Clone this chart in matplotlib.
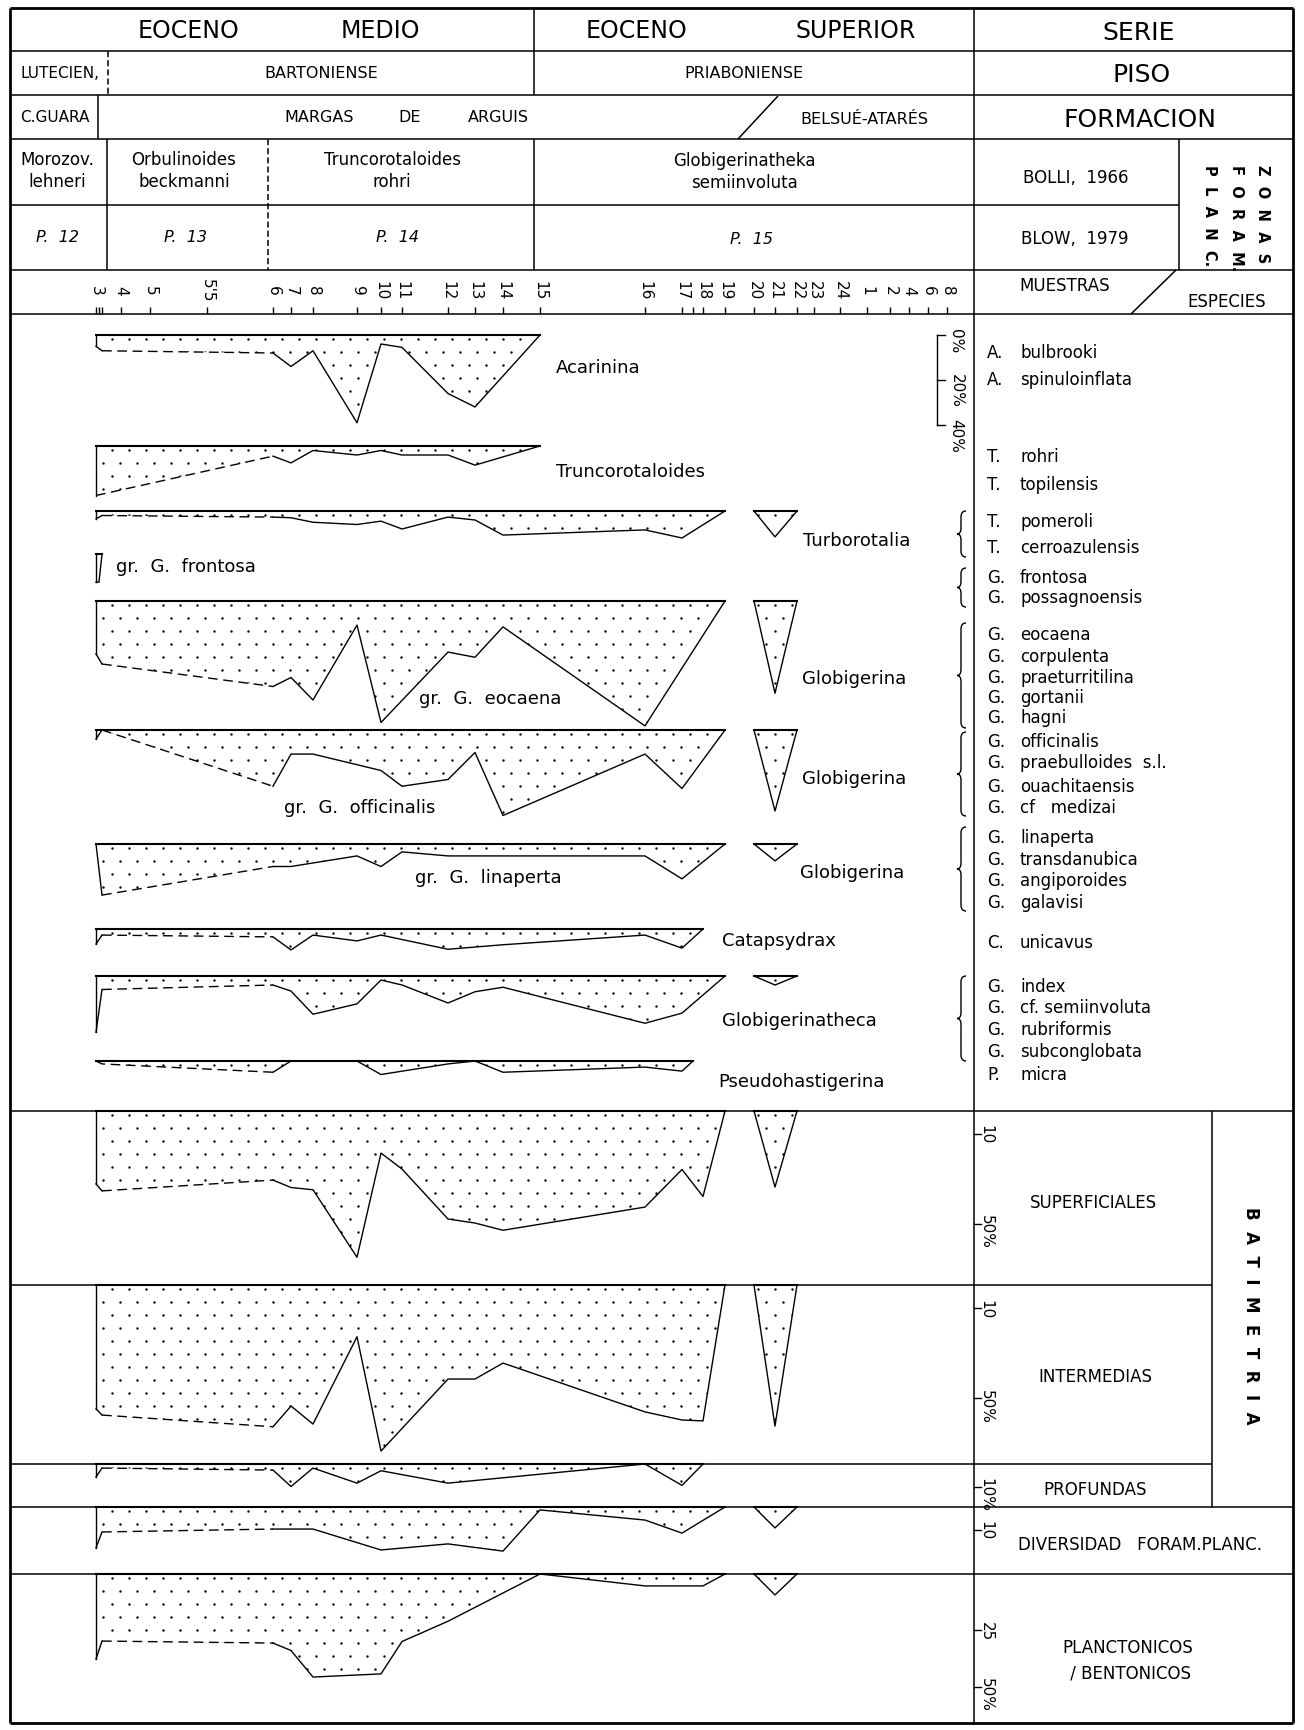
import matplotlib
matplotlib.use("Agg")
import numpy as np
import matplotlib.pyplot as plt
from matplotlib.path import Path
from matplotlib.patches import PathPatch

plt.rcParams['font.family'] = ['DejaVu Sans']

W, H = 1304, 1731

# muestras: etiqueta y posicion a lo largo de la serie
muestras = ['3', '', '', '4', '5', "5'5", '6', '7', '8', '9', '10', '11', '12', '13', '14',
            '15', '16', '17', '', '18', '19', '20', '21', '22', '23', '24', '1', '2', '4', '6', '8']
claves = ['3', '3b', '3c', '4', '5', '5.5', '6', '7', '8', '9', '10', '11', '12', '13', '14',
          '15', '16', '17', '17b', '18', '19', '20', '21', '22', '23', '24', 'b1', 'b2', 'b4', 'b6', 'b8']
posicion = [96, 99, 102, 121, 150, 207, 273, 291, 313, 357, 381, 402, 448, 475, 503,
            540, 645, 682, 693, 703, 725, 754, 775, 797, 814, 840, 867, 890, 909, 928, 947]
M = dict(zip(claves, posicion))

tri_m = ['20', '21', '22']

# porcentajes por grupo
acarinina_m = ['3', '3c', '6', '7', '8', '9', '10', '11', '12', '13', '15']
acarinina_v = [5, 7, 8, 14, 7, 39, 4, 5.5, 26, 32, 0]

trunco_m = ['3', '6', '7', '8', '9', '10', '11', '12', '13', '15']
trunco_v = [22, 4.5, 7.5, 2, 4, 2, 4, 4, 8.5, 0]

turbo_m = ['3', '3c', '6', '7', '8', '9', '10', '11', '12', '13', '14', '16', '17', '19']
turbo_v = [3.5, 2, 2.7, 3, 5, 6, 4.5, 8, 2.7, 4, 10.7, 8.4, 12, 0]
turbo_tri = [0, 11.5, 0]

frontosa_m = ['3', '3b', '3c']
frontosa_v = [12.5, 12.5, 0]

eocaena_m = ['3', '3c', '6', '7', '8', '9', '10', '12', '13', '14', '16', '19']
eocaena_v = [23.5, 28, 38, 34, 44, 10.7, 54, 22.7, 25, 11.5, 55.5, 0]
eocaena_tri = [0, 41, 0]

officinalis_m = ['3', '3c', '6', '7', '8', '10', '11', '12', '13', '14', '16', '17', '19']
officinalis_v = [4, 0, 25, 10.7, 10.7, 18, 25, 22, 10, 38, 10.7, 26, 0]
officinalis_tri = [0, 36, 0]

linaperta_m = ['3', '3c', '6', '7', '9', '10', '11', '12', '16', '17', '19']
linaperta_v = [0, 22.7, 10, 10, 5.3, 10, 3.5, 5.3, 5.3, 15.5, 0]
linaperta_tri = [0, 7.5, 0]

catapsydrax_m = ['3', '3c', '6', '7', '8', '9', '10', '12', '14', '16', '17', '18']
catapsydrax_v = [6.7, 2.7, 3.5, 9.3, 2.7, 5.3, 2.7, 9, 7, 2.7, 8.5, 0]

globigerinatheca_m = ['3', '3c', '6', '7', '8', '9', '10', '11', '12', '13', '14', '16', '17', '19']
globigerinatheca_v = [25, 6, 4, 6.7, 17, 12.4, 1.8, 4, 12, 7, 5, 21, 16.5, 0]
globigerinatheca_tri = [0, 4, 0]

pseudo_m = ['3', '3c', '6', '7', '9', '10', '12', '13', '14', '16', '17', '17b']
pseudo_v = [0, 1.3, 5, 0, 0, 6, 1.3, 0, 5, 2.7, 4.5, 0]

superf_m = ['3', '3c', '6', '7', '8', '9', '10', '11', '12', '13', '14', '16', '17', '18', '19']
superf_v = [32.4, 35.5, 30.7, 34, 35, 65, 18.7, 25.8, 48, 49.8, 53, 42.7, 26, 38, 0]
superf_tri = [0, 33.8, 0]

interm_m = ['3', '3c', '6', '7', '8', '9', '10', '12', '13', '14', '16', '17', '18', '19']
interm_v = [55, 57.8, 63, 53.8, 61.8, 23, 73.8, 41.8, 41.8, 34.7, 56.4, 60, 60.4, 0]
interm_tri = [0, 62.7, 0]

profund_m = ['3', '3c', '6', '7', '8', '9', '10', '12', '16', '17', '18']
profund_v = [5.8, 1.8, 2.7, 10, 1.8, 8.5, 3, 8.5, 0, 9.5, 0]

divers_m = ['3', '3c', '6', '8', '10', '12', '14', '15', '16', '17', '19']
divers_v = [18.2, 11.1, 9.8, 9.8, 19.1, 16.4, 19.6, 1.3, 5.8, 11.6, 0]
divers_tri = [0, 9.3, 0]

planct_m = ['3', '3c', '6', '7', '8', '10', '11', '12', '15', '16', '18', '19']
planct_v = [37.8, 29.8, 30.7, 34, 45.8, 44.4, 30, 21, 0, 5.3, 5.3, 0]
planct_tri = [0, 9.3, 0]

# lista de especies
especies_gen = ['A.', 'A.', 'T.', 'T.', 'T.', 'T.', 'G.', 'G.', 'G.', 'G.', 'G.', 'G.', 'G.', 'G.',
                'G.', 'G.', 'G.', 'G.', 'G.', 'G.', 'G.', 'C.', 'G.', 'G.', 'G.', 'G.', 'P.']
especies_nom = ['bulbrooki', 'spinuloinflata', 'rohri', 'topilensis', 'pomeroli', 'cerroazulensis',
                'frontosa', 'possagnoensis', 'eocaena', 'corpulenta', 'praeturritilina', 'gortanii',
                'hagni', 'officinalis', 'praebulloides  s.l.', 'ouachitaensis', 'cf   medizai',
                'linaperta', 'transdanubica', 'angiporoides', 'galavisi', 'unicavus', 'index',
                'cf. semiinvoluta', 'rubriformis', 'subconglobata', 'micra']
y_especies = [353, 380, 457, 485, 522, 548, 578, 598, 635, 657, 678, 698, 718, 742, 763, 787,
              808, 838, 860, 881, 903, 943, 987, 1008, 1030, 1052, 1075]

fig = plt.figure(figsize=(W / 100, H / 100), dpi=100)
ax = fig.add_axes([0, 0, 1, 1])
ax.set_xlim(0, W)
ax.set_ylim(H, 0)
ax.axis('off')


def L(x0, y0, x1, y1, lw=1.1, ls='-'):
    ax.plot([x0, x1], [y0, y1], color='black', lw=lw, ls=ls, solid_capstyle='butt')


def T(x, y, s, size=12, **kw):
    kw.setdefault('ha', 'center')
    kw.setdefault('va', 'center')
    ax.text(x, y, s, fontsize=size, color='black', **kw)


XL, XR, YT, YB = 10, 1293, 9, 1724
XC = 974

# marco
L(XL, YT, XR, YT, 2)
L(XL, YB, XR, YB, 2)
L(XL, YT, XL, YB, 2)
L(XR, YT, XR, YB, 2)
for y in [52, 96, 140, 271, 315, 1112, 1508, 1575]:
    L(XL, y, XR, y)
L(XL, 206, 1179, 206)
L(XL, 1286, 1212, 1286)
L(XL, 1465, 1212, 1465)
L(XC, YT, XC, YB)
L(534, YT, 534, 96)
L(534, 140, 534, 271)
L(108, 52, 108, 96, ls=(0, (4, 2)))
L(98, 96, 98, 140)
L(107, 140, 107, 271)
L(268, 140, 268, 271, ls=(0, (4, 2)))
L(1179, 140, 1179, 271)
L(1212, 1112, 1212, 1508)
L(778, 97, 738, 140)
L(1176, 271, 1131, 315)

# cabecera
T(188, 31, 'EOCENO', 17)
T(380, 31, 'MEDIO', 17)
T(637, 31, 'EOCENO', 17)
T(856, 31, 'SUPERIOR', 17)
T(1139, 33, 'SERIE', 18)
T(60, 73, 'LUTECIEN,', 11)
T(321, 73, 'BARTONIENSE', 11.5)
T(744, 73, 'PRIABONIENSE', 11.5)
T(1142, 75, 'PISO', 18)
T(55, 117, 'C.GUARA', 11)
T(319, 117, 'MARGAS', 11.5)
T(410, 117, 'DE', 11.5)
T(498, 117, 'ARGUIS', 11.5)
T(864, 119, 'BELSUÉ-ATARÉS', 11.5)
T(1140, 120, 'FORMACION', 18)
T(57, 171, 'Morozov.\nlehneri', 12, linespacing=1.3)
T(184, 171, 'Orbulinoides\nbeckmanni', 12, linespacing=1.3)
T(392, 171, 'Truncorotaloides\nrohri', 12, linespacing=1.3)
T(744, 172, 'Globigerinatheka\nsemiinvoluta', 12, linespacing=1.3)
T(1076, 178, 'BOLLI,  1966', 12)
T(57, 237, 'P.  12', 11.5, style='italic')
T(186, 237, 'P.  13', 11.5, style='italic')
T(397, 237, 'P.  14', 11.5, style='italic')
T(751, 239, 'P.  15', 11.5, style='italic')
T(1075, 239, 'BLOW,  1979', 12)
T(1236, 218, 'Z  O  N  A  S\nF  O  R  A  M.\nP  L  A  N  C.', 10.5, rotation=-90,
  fontweight='bold', multialignment='left', linespacing=1.95)
T(1065, 286, 'MUESTRAS', 12)
T(1227, 302, 'ESPECIES', 12)

# eje de muestras
for lab, p in zip(muestras, posicion):
    L(p, 315, p, 308, 1.0)
    if lab:
        T(p, 291, lab, 11, rotation=-90)

# lista de especies
for g, n, y in zip(especies_gen, especies_nom, y_especies):
    T(987, y, g, 12, ha='left')
    T(1020, y, n, 12, ha='left')


def llave(x, y0, y1, w=6):
    ym = (y0 + y1) / 2
    r = min(w, (y1 - y0) / 4)
    xb = x + 1
    verts = [(x + w, y0), (xb, y0), (xb, y0 + r), (xb, ym - r), (xb, ym), (x - 3, ym),
             (xb, ym), (xb, ym + r), (xb, y1 - r), (xb, y1), (x + w, y1)]
    codes = [Path.MOVETO, Path.CURVE3, Path.CURVE3, Path.LINETO, Path.CURVE3, Path.CURVE3,
             Path.CURVE3, Path.CURVE3, Path.LINETO, Path.CURVE3, Path.CURVE3]
    ax.add_patch(PathPatch(Path(verts, codes), fill=False, lw=1.0, color='black'))


for y0, y1 in [(512, 558), (569, 608), (624, 729), (733, 817), (828, 912), (977, 1062)]:
    llave(960, y0, y1)

# etiquetas de los grupos
for s, x, y in [('Acarinina', 556, 368), ('Truncorotaloides', 556, 472),
                ('Turborotalia', 803, 541), ('gr.  G.  frontosa', 116, 567),
                ('Globigerina', 802, 679), ('gr.  G.  eocaena', 419, 699),
                ('Globigerina', 802, 779), ('gr.  G.  officinalis', 284, 808),
                ('Globigerina', 800, 873), ('gr.  G.  linaperta', 415, 878),
                ('Catapsydrax', 722, 941), ('Globigerinatheca', 722, 1021),
                ('Pseudohastigerina', 718, 1082)]:
    T(x, y, s, 13, ha='left')

T(1093, 1203, 'SUPERFICIALES', 12)
T(1095, 1377, 'INTERMEDIAS', 12)
T(1095, 1490, 'PROFUNDAS', 12)
T(1140, 1545, 'DIVERSIDAD   FORAM.PLANC.', 12)
T(1128, 1661, 'PLANCTONICOS\n / BENTONICOS', 12, linespacing=1.5)
T(1251, 1316, 'B  A  T  I  M  E  T  R  I  A', 12, rotation=-90, fontweight='bold')

X0, X1 = XL, XC
ESC = 2.25
VMAX = 80

# trama de puntos (solo textura del relleno)
px = np.arange(X0, X1, 17.0)
py = np.arange(4 / ESC, VMAX, 13 / ESC)
gx, gy = np.meshgrid(px, py)
gx = gx + (np.arange(len(py)) % 2)[:, None] * 8.5
trama_x, trama_y = gx.ravel(), gy.ravel()


def panel(top, vmax=VMAX):
    h = (vmax + 3) * ESC
    a = fig.add_axes([X0 / W, 1 - (top - 3 * ESC + h) / H, (X1 - X0) / W, h / H])
    a.set_xlim(X0, X1)
    a.set_ylim(vmax, -3)
    a.axis('off')
    return a


def curva(a, cl, v, dash=None, lw=1.0):
    x = [M[k] for k in cl]
    poly = a.fill_between(x, 0, v, facecolor='none', edgecolor='none', linewidth=0)
    sc = a.scatter(trama_x, trama_y, s=3.0, c='black', marker='o', linewidths=0)
    sc.set_clip_path(poly.get_paths()[0], a.transData)
    a.plot([x[0], x[-1]], [0, 0], color='black', lw=1.5)
    a.plot([x[0], x[0]], [0, v[0]], color='black', lw=lw)
    a.plot([x[-1], x[-1]], [0, v[-1]], color='black', lw=lw)
    if dash is None:
        a.plot(x, v, color='black', lw=lw)
    else:
        i0, i1 = dash
        a.plot(x[:i0 + 1], v[:i0 + 1], color='black', lw=lw)
        a.plot(x[i0:i1 + 1], v[i0:i1 + 1], color='black', lw=lw, ls=(0, (7, 4)))
        a.plot(x[i1:], v[i1:], color='black', lw=lw)


def marcas(a, vals, labs):
    for v, s in zip(vals, labs):
        a.plot([X1, X1 + 7], [v, v], color='black', lw=1.0, clip_on=False)
        a.text(X1 + 12, v - 4, s, rotation=-90, rotation_mode='anchor', ha='left',
               va='center', fontsize=11, clip_on=False)


a = panel(336)
curva(a, acarinina_m, acarinina_v, (1, 2))
a.plot([937, 937], [0, 40], color='black', lw=1.0)
for v, s in zip([0, 20, 40], ['0%', '20%', '40%']):
    a.plot([937, 945], [v, v], color='black', lw=1.0)
    a.text(956, v - 3, s, rotation=-90, rotation_mode='anchor', ha='left', va='center',
           fontsize=11)

a = panel(447)
curva(a, trunco_m, trunco_v, (0, 1))

a = panel(512)
curva(a, turbo_m, turbo_v, (1, 2))
curva(a, tri_m, turbo_tri)

a = panel(555)
curva(a, frontosa_m, frontosa_v)

a = panel(602)
curva(a, eocaena_m, eocaena_v, (1, 2))
curva(a, tri_m, eocaena_tri)

a = panel(731)
curva(a, officinalis_m, officinalis_v, (1, 2))
curva(a, tri_m, officinalis_tri)

a = panel(845)
curva(a, linaperta_m, linaperta_v, (1, 2))
curva(a, tri_m, linaperta_tri)

a = panel(930)
curva(a, catapsydrax_m, catapsydrax_v, (1, 2))

a = panel(977)
curva(a, globigerinatheca_m, globigerinatheca_v, (1, 2))
curva(a, tri_m, globigerinatheca_tri)

a = panel(1062)
curva(a, pseudo_m, pseudo_v, (0, 2))

a = panel(1112)
curva(a, superf_m, superf_v, (1, 2))
curva(a, tri_m, superf_tri)
marcas(a, [10, 50], ['10', '50%'])

a = panel(1286)
curva(a, interm_m, interm_v, (1, 2))
curva(a, tri_m, interm_tri)
marcas(a, [10, 50], ['10', '50%'])

a = panel(1465)
curva(a, profund_m, profund_v, (1, 2))
marcas(a, [10], ['10%'])

a = panel(1508)
curva(a, divers_m, divers_v, (1, 2))
curva(a, tri_m, divers_tri)
marcas(a, [10], ['10'])

a = panel(1575)
curva(a, planct_m, planct_v, (1, 2))
curva(a, tri_m, planct_tri)
marcas(a, [25, 50], ['25', '50%'])

fig.savefig('out.png', dpi=100, facecolor='white')
